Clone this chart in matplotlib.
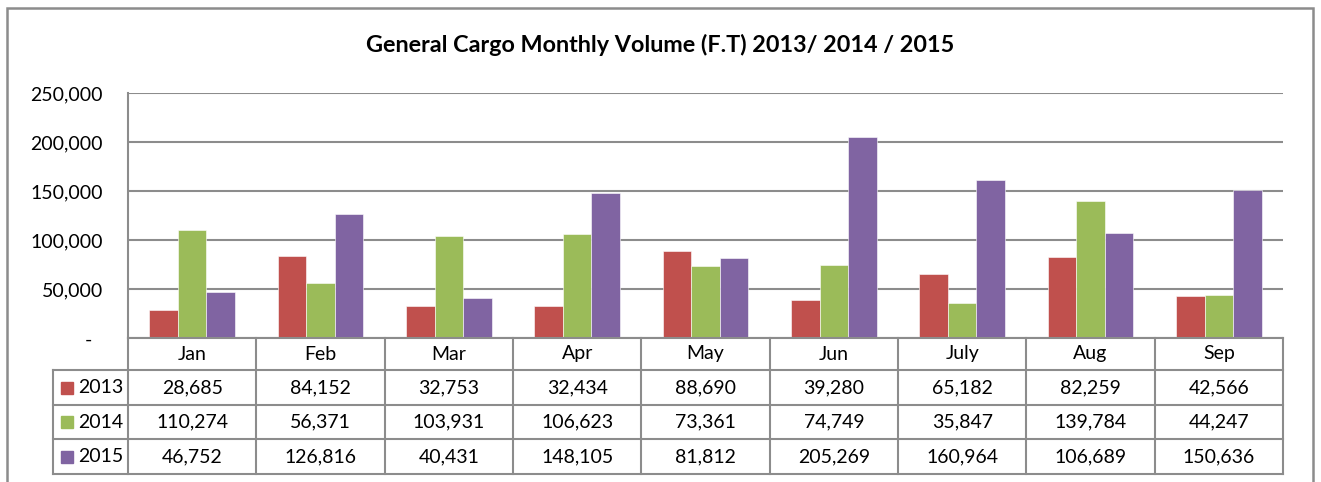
import matplotlib
matplotlib.use("Agg")
import matplotlib.pyplot as plt
from matplotlib.patches import Rectangle
import numpy as np

months = ["Jan", "Feb", "Mar", "Apr", "May", "Jun", "July", "Aug", "Sep"]
years = ["2013", "2014", "2015"]
v2013 = [28685, 84152, 32753, 32434, 88690, 39280, 65182, 82259, 42566]
v2014 = [110274, 56371, 103931, 106623, 73361, 74749, 35847, 139784, 44247]
v2015 = [46752, 126816, 40431, 148105, 81812, 205269, 160964, 106689, 150636]
series = [v2013, v2014, v2015]
colors = ["#C0504D", "#9BBB59", "#8064A2"]
yticks = [0, 50000, 100000, 150000, 200000, 250000]
title = "General Cargo Monthly Volume (F.T) 2013/ 2014 / 2015"

plt.rcParams['font.family'] = ['Lato', 'DejaVu Sans']
FS = 14
W, H = 1321, 482
fig = plt.figure(figsize=(W / 100, H / 100), dpi=100)
GRAY = "#8c8c8c"

# outer border
fig.patches.append(Rectangle((7 / W, -0.1), (1313 - 7) / W, (H - 8) / H + 0.1,
                             transform=fig.transFigure, fill=False,
                             edgecolor=GRAY, lw=1.8))

px0, px1 = 128, 1283
ytop, ybot = 93, 338
ax = fig.add_axes([px0 / W, (H - ybot) / H, (px1 - px0) / W, (ybot - ytop) / H])
x = np.arange(len(months))
bw = 0.223
for i, (vals, c) in enumerate(zip(series, colors)):
    ax.bar(x + (i - 1) * bw, vals, width=bw, color=c, edgecolor="white",
           linewidth=0.4, zorder=3)
ax.set_xlim(-0.5, len(months) - 0.5)
ax.set_ylim(0, 250000)
ax.set_yticks(yticks)
ax.set_yticklabels(["" if v == 0 else f"{v:,}" for v in yticks], fontsize=FS)
ax.tick_params(axis='y', length=0, pad=18)
ax.set_xticks([])
ax.yaxis.grid(True, color=GRAY, lw=1.5, zorder=0)
for s in ["top", "right", "bottom"]:
    ax.spines[s].set_visible(False)
ax.spines["left"].set_color(GRAY)
ax.spines["left"].set_linewidth(1.5)
fig.text(92 / W, 1 - 340 / H, "-", ha="right", va="center", fontsize=FS)

fig.text(660 / W, 1 - 45 / H, title, ha="center", va="center",
         fontsize=16.8, fontweight="bold")

# data table
tl = 53
unit = (px1 - px0) / len(months)
xl = -0.5 - (px0 - tl) / unit
tb = 474
tax = fig.add_axes([tl / W, (H - tb) / H, (px1 - tl) / W, (tb - ybot) / H])
tax.set_xlim(xl, len(months) - 0.5)
tax.set_ylim(tb, ybot)
tax.axis("off")
row_y = [338, 370, 405, 439, 474]
lk = dict(color=GRAY, lw=1.5, clip_on=False, solid_capstyle="projecting")
tax.plot([-0.5, len(months) - 0.5], [row_y[0]] * 2, **lk)
for yy in row_y[1:]:
    tax.plot([xl, len(months) - 0.5], [yy] * 2, **lk)
for i in range(len(months) + 1):
    tax.plot([i - 0.5] * 2, [row_y[0], row_y[-1]], **lk)
tax.plot([xl] * 2, [row_y[1], row_y[-1]], **lk)

for j, m in enumerate(months):
    tax.text(j, (row_y[0] + row_y[1]) / 2, m, ha="center", va="center", fontsize=FS)
for r, (yr, vals, c) in enumerate(zip(years, series, colors)):
    yc = (row_y[r + 1] + row_y[r + 2]) / 2
    for j, v in enumerate(vals):
        tax.text(j, yc, f"{v:,}", ha="center", va="center", fontsize=FS)
    sq = 12 / unit
    tax.add_patch(Rectangle((xl + 8 / unit, yc - 6), sq, 12, color=c, clip_on=False))
    tax.text(xl + 25 / unit, yc, yr, ha="left", va="center", fontsize=FS)

fig.savefig("out.png", dpi=100)
